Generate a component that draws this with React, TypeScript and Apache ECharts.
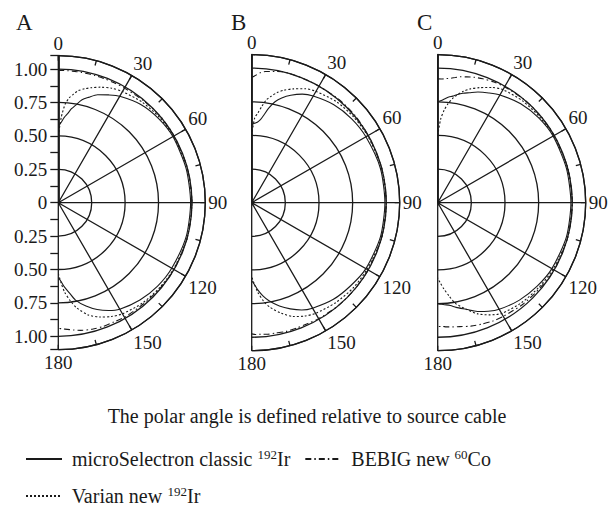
import React, { useEffect, useRef } from "react";
import * as echarts from "echarts";

// ---- data ----
const angles = [0, 2, 4, 6, 8, 10, 13, 16, 20, 25, 30, 40, 50, 60, 75, 90, 105, 120, 130, 140, 150, 155, 160, 165, 170, 173, 176, 178, 180];

const panelLabels = ["A", "B", "C"];

const legendMain = ["microSelectron classic ", "BEBIG new ", "Varian new "];
const legendSup = ["192", "60", "192"];
const legendTail = ["Ir", "Co", "Ir"];

const caption = "The polar angle is defined relative to source cable";

const radialTickLabels = ["0", "0.25", "0.50", "0.75", "1.00"];

// Panel A
const aSolid = [0.57, 0.6, 0.64, 0.67, 0.71, 0.74, 0.79, 0.82, 0.86, 0.89, 0.92, 0.96, 0.98, 0.99, 0.99, 0.99, 0.99, 0.98, 0.97, 0.95, 0.92, 0.89, 0.85, 0.8, 0.74, 0.68, 0.63, 0.59, 0.56];
const aDashDot = [0.99, 0.99, 0.99, 0.99, 0.99, 0.99, 0.99, 0.99, 0.99, 0.99, 0.99, 0.995, 1.0, 1.0, 1.0, 1.0, 1.0, 1.0, 0.995, 0.99, 0.99, 0.985, 0.985, 0.98, 0.97, 0.96, 0.95, 0.945, 0.94];
const aDotted = [0.5, 0.64, 0.74, 0.79, 0.82, 0.85, 0.875, 0.895, 0.92, 0.945, 0.96, 0.98, 0.99, 0.995, 1.0, 1.0, 1.0, 0.995, 0.99, 0.98, 0.96, 0.94, 0.91, 0.87, 0.8, 0.74, 0.67, 0.6, 0.53];

// Panel B
const bSolid = [0.58, 0.59, 0.6, 0.62, 0.66, 0.71, 0.77, 0.81, 0.85, 0.89, 0.915, 0.95, 0.97, 0.98, 0.99, 0.99, 0.99, 0.98, 0.96, 0.94, 0.905, 0.88, 0.84, 0.795, 0.74, 0.7, 0.65, 0.61, 0.58];
const bDashDot = [0.93, 0.95, 0.97, 0.98, 0.985, 0.99, 1.0, 1.0, 1.0, 1.0, 1.0, 1.005, 1.005, 1.0, 1.0, 1.0, 1.0, 1.0, 1.0, 1.0, 0.995, 0.99, 0.99, 0.99, 0.985, 0.985, 0.98, 0.98, 0.975];
const bDotted = [0.5, 0.63, 0.67, 0.72, 0.77, 0.8, 0.84, 0.87, 0.9, 0.935, 0.955, 0.98, 0.99, 0.995, 1.0, 1.0, 1.0, 0.99, 0.985, 0.97, 0.95, 0.93, 0.9, 0.85, 0.79, 0.74, 0.67, 0.61, 0.55];

// Panel C
const cSolid = [0.75, 0.76, 0.775, 0.79, 0.8, 0.815, 0.835, 0.85, 0.875, 0.9, 0.925, 0.96, 0.98, 0.99, 0.99, 0.99, 0.99, 0.98, 0.965, 0.945, 0.915, 0.89, 0.86, 0.82, 0.79, 0.77, 0.76, 0.755, 0.75];
const cDashDot = [0.92, 0.92, 0.925, 0.93, 0.94, 0.95, 0.96, 0.97, 0.98, 0.99, 0.995, 1.0, 1.0, 1.0, 1.0, 1.0, 1.0, 1.0, 0.99, 0.985, 0.975, 0.97, 0.96, 0.95, 0.935, 0.93, 0.925, 0.92, 0.92];
const cDotted = [0.5, 0.62, 0.69, 0.74, 0.78, 0.81, 0.85, 0.88, 0.91, 0.945, 0.97, 0.985, 0.99, 0.995, 1.0, 1.0, 1.0, 0.99, 0.98, 0.97, 0.95, 0.92, 0.88, 0.82, 0.76, 0.7, 0.64, 0.6, 0.56];

const panelData = [
  [aSolid, aDashDot, aDotted],
  [bSolid, bDashDot, bDotted],
  [cSolid, cDashDot, cDotted],
];

// ---- layout / style ----
const FONT = "Liberation Serif";
const INK = "#1a1a1a";
const centers = [[58.3, 202.7], [251.7, 202.7], [437.7, 202.7]];
const radii = [147, 148, 148];
const titlePos = [[11, 6], [226, 6], [412, 6]];
const lineTypes: any[] = ["solid", [6, 3, 1.5, 3], [2, 2]];

const seriesNames = legendMain.map((m, i) => m + legendSup[i] + legendTail[i]);

export default function App() {
  const ref = useRef<HTMLDivElement>(null);
  useEffect(() => {
    if (!ref.current) return;
    const chart = echarts.init(ref.current, undefined, { renderer: "svg" });
    const lineStyle = { color: INK, width: 1.3 };
    const labelStyle = { fontFamily: FONT, fontSize: 19, color: INK };

    const polar: any[] = [];
    const angleAxis: any[] = [];
    const radiusAxis: any[] = [];
    centers.forEach((c, i) => {
      polar.push({ center: c, radius: radii[i] });
      angleAxis.push({
        polarIndex: i,
        type: "value",
        min: 0,
        max: 180,
        interval: 30,
        startAngle: 90,
        endAngle: -90,
        clockwise: true,
        axisLine: { show: true, lineStyle },
        axisTick: { show: true, inside: true, length: 5, lineStyle },
        minorTick: { show: true, splitNumber: 2, length: 5, lineStyle },
        axisLabel: { margin: 3, ...labelStyle },
        splitLine: { show: true, lineStyle },
      });
      radiusAxis.push({
        polarIndex: i,
        type: "value",
        min: 0,
        max: 1.1,
        interval: 0.25,
        axisLine: { show: true, lineStyle: { color: INK, width: 1.8 } },
        axisTick: { show: false },
        axisLabel: { show: false },
        splitLine: { show: true, lineStyle },
      });
    });
    const fmt = (v: number) => {
      const k = Math.round(v / 0.25);
      return Math.abs(v - k * 0.25) < 1e-6 && k < radialTickLabels.length ? radialTickLabels[k] : "";
    };
    // panel A upper radial labels
    polar.push({ center: centers[0], radius: radii[0] });
    angleAxis.push({ polarIndex: 3, type: "value", min: 0, max: 180, startAngle: 90, endAngle: -90, show: false });
    radiusAxis.push({
      polarIndex: 3, type: "value", min: 0, max: 1.1, interval: 0.125,
      axisLine: { show: false },
      axisTick: { show: true, length: 8, lineStyle },
      axisLabel: { show: true, margin: 11, formatter: fmt, ...labelStyle },
      splitLine: { show: false },
    });
    // panel A lower radial labels (axis points down; labels pushed to the left side)
    polar.push({ center: centers[0], radius: radii[0] });
    angleAxis.push({ polarIndex: 4, type: "value", min: 0, max: 180, startAngle: -90, show: false });
    radiusAxis.push({
      polarIndex: 4, type: "value", min: 0, max: 1.1, interval: 0.125,
      axisLine: { show: false },
      axisTick: { show: true, length: -8, lineStyle },
      axisLabel: { show: true, margin: -11, align: "right", showMinLabel: false, formatter: fmt, ...labelStyle },
      splitLine: { show: false },
    });

    const series: any[] = [];
    panelData.forEach((curves, p) => {
      curves.forEach((vals, k) => {
        series.push({
          type: "line",
          name: seriesNames[k],
          coordinateSystem: "polar",
          polarIndex: p,
          data: angles.map((a, j) => [vals[j], a]),
          showSymbol: false,
          symbol: "none",
          smooth: 0.25,
          itemStyle: { color: INK },
          lineStyle: { color: INK, width: 1.1, type: lineTypes[k] },
          z: 3,
        });
      });
    });

    const legendFmt = (name: string) => {
      const i = seriesNames.indexOf(name);
      return `{n| ${legendMain[i]}}{s|${legendSup[i]}}{n|${legendTail[i]}}`;
    };
    const legendText = {
      fontFamily: FONT,
      fontSize: 20,
      color: INK,
      rich: {
        n: { fontFamily: FONT, fontSize: 20, color: INK },
        s: { fontFamily: FONT, fontSize: 13, color: INK, padding: [0, 0, 9, 0] },
      },
    };
    const legendCommon = {
      itemWidth: 36,
      itemHeight: 14,
      itemStyle: { opacity: 0 },
      formatter: legendFmt,
      textStyle: legendText,
    };

    chart.setOption({
      animation: false,
      backgroundColor: "#ffffff",
      title: [
        ...panelLabels.map((t, i) => ({
          text: t,
          left: titlePos[i][0],
          top: titlePos[i][1],
          textStyle: { fontFamily: FONT, fontSize: 23, fontWeight: "normal", color: INK },
        })),
        {
          text: caption,
          left: "center",
          top: 401,
          textStyle: { fontFamily: FONT, fontSize: 20, fontWeight: "normal", color: INK },
        },
      ],
      legend: [
        { data: [seriesNames[0], seriesNames[1]], left: 20, top: 443, itemGap: 14, ...legendCommon },
        { data: [seriesNames[2]], left: 20, top: 480, ...legendCommon },
      ],
      polar,
      angleAxis,
      radiusAxis,
      series,
    });
    return () => chart.dispose();
  }, []);
  return <div ref={ref} style={{ position: "fixed", left: 0, top: 0, width: 614, height: 506 }} />;
}
